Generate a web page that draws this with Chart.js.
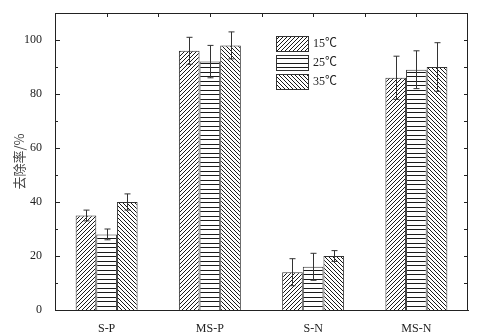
<!DOCTYPE html>
<html>
<head>
<meta charset="utf-8">
<script src="https://cdn.jsdelivr.net/npm/chart.js@4.4.1/dist/chart.umd.min.js"></script>
<style>
  html, body { margin: 0; padding: 0; background: #fff; }
  #wrap { width: 494px; height: 335px; }
</style>
</head>
<body>
<div id="wrap"><canvas id="removal"></canvas></div>
<script>
const categories = ['S-P', 'MS-P', 'S-N', 'MS-N'];
const tempLabels = ['15℃', '25℃', '35℃'];

// removal rate (%) per sample at each temperature
const rate15 = [35, 96, 14, 86];
const rate25 = [28, 92, 16, 89];
const rate35 = [40, 98, 20, 90];

// error bar half-widths
const err15 = [2, 5, 5, 8];
const err25 = [2, 6, 5, 7];
const err35 = [3, 5, 2, 9];

const yTicks = [0, 20, 40, 60, 80, 100];

const serif = "'Liberation Serif', 'Noto Sans CJK SC', serif";
const ink = '#222';

// hatch fills: '/' , '-' , '\'
function hatch(kind) {
  const c = document.createElement('canvas');
  const s = kind === 'h' ? 9 : 4;
  c.width = s; c.height = s;
  const g = c.getContext('2d');
  g.fillStyle = '#fff';
  g.fillRect(0, 0, s, s);
  g.strokeStyle = '#1a1a1a';
  g.lineWidth = 1;
  g.beginPath();
  if (kind === 'h') {
    g.moveTo(0, 0.5); g.lineTo(s, 0.5);
    g.moveTo(0, 4.5); g.lineTo(s, 4.5);
  } else if (kind === 'f') {
    for (let k = -1; k <= 1; k++) {
      g.moveTo(k * s, s); g.lineTo(k * s + s, 0);
    }
  } else {
    for (let k = -1; k <= 1; k++) {
      g.moveTo(k * s, 0); g.lineTo(k * s + s, s);
    }
  }
  g.stroke();
  return g.createPattern(c, 'repeat');
}

const fills = [hatch('f'), hatch('h'), hatch('b')];
const errs = [err15, err25, err35];

const errorBars = {
  id: 'errorBars',
  afterDatasetsDraw(chart) {
    const ctx = chart.ctx, y = chart.scales.y;
    ctx.save();
    ctx.strokeStyle = '#333';
    ctx.lineWidth = 1;
    chart.data.datasets.forEach((ds, i) => {
      chart.getDatasetMeta(i).data.forEach((bar, j) => {
        const v = ds.data[j], e = errs[i][j];
        const x = Math.round(bar.x) + 0.5;
        const top = y.getPixelForValue(v + e), bot = y.getPixelForValue(v - e);
        ctx.beginPath();
        ctx.moveTo(x, top); ctx.lineTo(x, bot);
        ctx.moveTo(x - 3, top); ctx.lineTo(x + 3, top);
        ctx.moveTo(x - 3, bot); ctx.lineTo(x + 3, bot);
        ctx.stroke();
      });
    });
    ctx.restore();
  }
};

// closed frame with inward ticks and the in-plot legend
const frame = {
  id: 'frame',
  afterDraw(chart) {
    const ctx = chart.ctx, a = chart.chartArea;
    const x = chart.scales.x, y = chart.scales.y;
    ctx.save();
    ctx.strokeStyle = ink;
    ctx.lineWidth = 1;
    ctx.beginPath();
    ctx.moveTo(a.left, a.top + 0.5); ctx.lineTo(a.right, a.top + 0.5);
    ctx.moveTo(a.right - 0.5, a.top); ctx.lineTo(a.right - 0.5, a.bottom);
    for (let i = 0; i < categories.length; i++) {
      for (const off of [0, 0.5]) {
        if (i + off > categories.length - 1) continue;
        const px = Math.round(x.getPixelForValue(i + off)) + 0.5;
        ctx.moveTo(px, a.top); ctx.lineTo(px, a.top + 4);
      }
    }
    for (let v = 10; v <= 100; v += 10) {
      const py = Math.round(y.getPixelForValue(v)) + 0.5;
      const len = v % 20 === 0 ? 5 : 3;
      ctx.moveTo(a.left, py); ctx.lineTo(a.left + len, py);
      ctx.moveTo(a.right, py); ctx.lineTo(a.right - 4, py);
    }
    ctx.stroke();

    // legend
    ctx.font = '12px ' + serif;
    ctx.textBaseline = 'middle';
    ctx.fillStyle = ink;
    chart.data.datasets.forEach((ds, i) => {
      const bx = a.left + 221, by = a.top + 23 + i * 19;
      ctx.fillStyle = ds.backgroundColor;
      ctx.fillRect(bx, by, 33, 16);
      ctx.strokeStyle = '#333';
      ctx.strokeRect(bx + 0.5, by + 0.5, 32, 15);
      ctx.fillStyle = ink;
      ctx.fillText(ds.label, bx + 37, by + 8);
    });
    ctx.restore();
  }
};

new Chart(document.getElementById('removal'), {
  type: 'bar',
  data: {
    labels: categories,
    datasets: [rate15, rate25, rate35].map((d, i) => ({
      label: tempLabels[i],
      data: d,
      backgroundColor: fills[i],
      borderColor: '#333',
      borderWidth: 1,
      barPercentage: 1,
      categoryPercentage: 0.6
    }))
  },
  options: {
    responsive: true,
    maintainAspectRatio: false,
    animation: false,
    events: [],
    layout: { padding: { top: 13, right: 26, left: 0, bottom: 0 } },
    plugins: {
      legend: { display: false },
      tooltip: { enabled: false }
    },
    scales: {
      x: {
        grid: { display: false },
        border: { color: ink, width: 1 },
        ticks: { color: ink, font: { family: serif, size: 12 }, padding: 4 },
        afterFit(s) { s.height = 25; }
      },
      y: {
        min: 0,
        max: 110,
        grid: { display: false },
        border: { color: ink, width: 1 },
        ticks: { stepSize: 20, color: ink, font: { family: serif, size: 12 }, padding: 5 },
        afterBuildTicks(s) { s.ticks = yTicks.map(v => ({ value: v })); },
        title: {
          display: true,
          text: '去除率/%',
          color: '#444',
          font: { family: "'Noto Sans CJK SC', sans-serif", size: 13 },
          padding: { top: 11, bottom: 0 }
        },
        afterFit(s) { s.width = 55; }
      }
    }
  },
  plugins: [errorBars, frame]
});
</script>
</body>
</html>
